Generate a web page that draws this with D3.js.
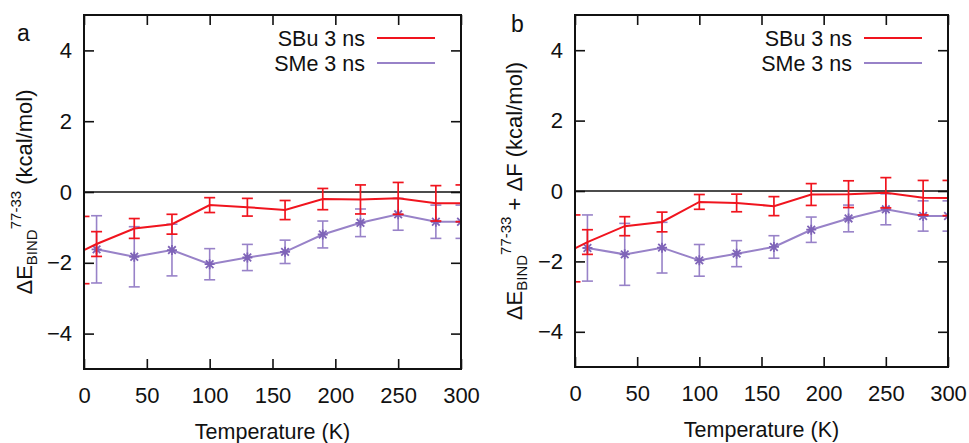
<!DOCTYPE html>
<html>
<head>
<meta charset="utf-8">
<script src="https://cdn.jsdelivr.net/npm/d3@7"></script>
<style>
  body { margin: 0; background: #fff; }
  svg { display: block; font-family: "Liberation Sans", Arial, sans-serif; }
</style>
</head>
<body>
<div id="chart"></div>
<script>
// values (kcal/mol vs temperature in K)
const tempSBu = [0, 10, 40, 70, 100, 130, 160, 190, 220, 250, 280, 300];
const tempSMe = [10, 40, 70, 100, 130, 160, 190, 220, 250, 280, 300];

// panel a
const sbuA    = [-1.64, -1.47, -1.03, -0.91, -0.37, -0.43, -0.51, -0.20, -0.21, -0.18, -0.32, -0.32];
const sbuErrA = [0.95, 0.35, 0.28, 0.28, 0.21, 0.25, 0.27, 0.30, 0.41, 0.45, 0.50, 0.52];
const smeA    = [-1.62, -1.83, -1.64, -2.04, -1.85, -1.69, -1.20, -0.87, -0.63, -0.84, -0.84];
const smeErrA = [0.95, 0.85, 0.73, 0.44, 0.37, 0.33, 0.38, 0.39, 0.45, 0.47, 0.47];

// panel b
const sbuB    = [-1.63, -1.45, -1.00, -0.88, -0.31, -0.34, -0.43, -0.10, -0.09, -0.05, -0.19, -0.20];
const sbuErrB = [0.95, 0.35, 0.27, 0.28, 0.21, 0.25, 0.27, 0.31, 0.38, 0.43, 0.49, 0.50];
const smeB    = [-1.62, -1.80, -1.61, -1.97, -1.78, -1.59, -1.10, -0.78, -0.52, -0.71, -0.71];
const smeErrB = [0.94, 0.88, 0.72, 0.45, 0.37, 0.32, 0.36, 0.38, 0.44, 0.43, 0.43];

const xTicks = [0, 50, 100, 150, 200, 250, 300];
const yTicks = [-4, -2, 0, 2, 4];
const seriesNames = ["SBu 3 ns", "SMe 3 ns"];

const red = "#f0141e";
const purple = "#9882c8";
const purpleDark = "#7f64b8";

const width = 969, height = 443;

const svg = d3.select("#chart")
  .append("svg")
    .attr("width", width)
    .attr("height", height);

function drawPanel(opt) {
  const x = d3.scaleLinear().domain([0, 300]).range([opt.left, opt.right]);
  const y = d3.scaleLinear().domain([-5, 5]).range([opt.bottom, opt.top]);
  const g = svg.append("g");

  const clipId = "clip-" + opt.letter;
  g.append("clipPath").attr("id", clipId)
    .append("rect")
      .attr("x", opt.left).attr("y", opt.top)
      .attr("width", opt.right - opt.left).attr("height", opt.bottom - opt.top);

  // ticks on all four sides, pointing inwards (gnuplot style)
  g.append("g")
    .attr("transform", `translate(0,${opt.bottom})`)
    .call(d3.axisBottom(x).tickValues(xTicks).tickSize(-10).tickPadding(18))
    .call(a => a.select(".domain").remove());
  g.append("g")
    .attr("transform", `translate(0,${opt.top})`)
    .call(d3.axisTop(x).tickValues(xTicks).tickSize(-10).tickFormat(""))
    .call(a => a.select(".domain").remove());
  g.append("g")
    .attr("transform", `translate(${opt.left},0)`)
    .call(d3.axisLeft(y).tickValues(yTicks).tickSize(-10).tickPadding(12))
    .call(a => a.select(".domain").remove());
  g.append("g")
    .attr("transform", `translate(${opt.right},0)`)
    .call(d3.axisRight(y).tickValues(yTicks).tickSize(-10).tickFormat(""))
    .call(a => a.select(".domain").remove());

  g.selectAll(".tick line").attr("stroke", "#111").attr("stroke-width", 1.6);
  g.selectAll(".tick text")
    .attr("fill", "#111")
    .style("font-size", "22px")
    .style("font-family", "'Liberation Sans', Arial, sans-serif");

  // zero line
  g.append("line")
    .attr("x1", opt.left).attr("x2", opt.right)
    .attr("y1", y(0)).attr("y2", y(0))
    .attr("stroke", "#111").attr("stroke-width", 1.6);

  const plot = g.append("g").attr("clip-path", `url(#${clipId})`);

  function errorBars(xs, vals, errs, color, w) {
    const eb = plot.append("g").attr("stroke", color).attr("stroke-width", w).attr("fill", "none");
    xs.forEach((t, i) => {
      const cx = x(t), y1 = y(vals[i] + errs[i]), y2 = y(vals[i] - errs[i]);
      eb.append("line").attr("x1", cx).attr("x2", cx).attr("y1", y1).attr("y2", y2);
      eb.append("line").attr("x1", cx - 5.5).attr("x2", cx + 5.5).attr("y1", y1).attr("y2", y1);
      eb.append("line").attr("x1", cx - 5.5).attr("x2", cx + 5.5).attr("y1", y2).attr("y2", y2);
    });
  }

  const line = d3.line().x(d => x(d[0])).y(d => y(d[1]));

  // SMe (purple) under SBu (red)
  errorBars(tempSMe, opt.sme, opt.smeErr, purple, 1.6);
  plot.append("path")
    .datum(tempSMe.map((t, i) => [t, opt.sme[i]]))
    .attr("d", line)
    .attr("fill", "none").attr("stroke", purple).attr("stroke-width", 2);
  plot.append("g").selectAll("path")
    .data(tempSMe.map((t, i) => [t, opt.sme[i]]))
    .join("path")
      .attr("transform", d => `translate(${x(d[0])},${y(d[1])})`)
      .attr("d", "M-5,0H5M0,-5V5M-3.8,-3.8L3.8,3.8M-3.8,3.8L3.8,-3.8")
      .attr("stroke", purpleDark).attr("stroke-width", 1.8).attr("fill", "none");

  errorBars(tempSBu, opt.sbu, opt.sbuErr, red, 1.7);
  plot.append("path")
    .datum(tempSBu.map((t, i) => [t, opt.sbu[i]]))
    .attr("d", line)
    .attr("fill", "none").attr("stroke", red).attr("stroke-width", 2);

  // frame
  g.append("rect")
    .attr("x", opt.left).attr("y", opt.top)
    .attr("width", opt.right - opt.left).attr("height", opt.bottom - opt.top)
    .attr("fill", "none").attr("stroke", "#111").attr("stroke-width", 2);

  // legend
  const legend = g.append("g");
  [red, purple].forEach((c, i) => {
    const ly = 38 + i * 25;
    legend.append("text")
      .attr("x", opt.right - 96).attr("y", ly)
      .attr("dy", "0.35em")
      .attr("text-anchor", "end")
      .style("font-size", "21.5px")
      .attr("fill", "#111")
      .text(seriesNames[i]);
    legend.append("line")
      .attr("x1", opt.right - 84).attr("x2", opt.right - 26)
      .attr("y1", ly).attr("y2", ly)
      .attr("stroke", c).attr("stroke-width", 2);
  });

  // panel letter
  g.append("text")
    .attr("x", opt.letterX).attr("y", opt.letterY)
    .style("font-size", "23px")
    .attr("fill", "#111")
    .text(opt.letter);

  // x title
  g.append("text")
    .attr("x", (opt.left + opt.right) / 2).attr("y", opt.xTitleY)
    .attr("text-anchor", "middle")
    .style("font-size", "21.5px")
    .attr("fill", "#111")
    .text("Temperature (K)");

  // y title with sub / superscript
  const yt = g.append("text")
    .attr("transform", `translate(${opt.yTitleX},${(opt.top + opt.bottom) / 2}) rotate(-90)`)
    .attr("text-anchor", "middle")
    .style("font-size", "22px")
    .attr("fill", "#111");
  yt.append("tspan").text("\u0394E");
  yt.append("tspan").attr("dy", 5).style("font-size", "15px").text("BIND");
  yt.append("tspan").attr("dy", -16).style("font-size", "15px").text("77-33");
  yt.append("tspan").attr("dy", 11).text(opt.yTitleRest);
}

drawPanel({
  letter: "a", letterX: 17, letterY: 41,
  left: 84, right: 461, top: 15, bottom: 369,
  xTitleY: 439, yTitleX: 32, yTitleRest: " (kcal/mol)",
  sbu: sbuA, sbuErr: sbuErrA, sme: smeA, smeErr: smeErrA
});

drawPanel({
  letter: "b", letterX: 511, letterY: 32,
  left: 575, right: 948, top: 15, bottom: 367,
  xTitleY: 437, yTitleX: 522, yTitleRest: " + \u0394F (kcal/mol)",
  sbu: sbuB, sbuErr: sbuErrB, sme: smeB, smeErr: smeErrB
});
</script>
</body>
</html>
